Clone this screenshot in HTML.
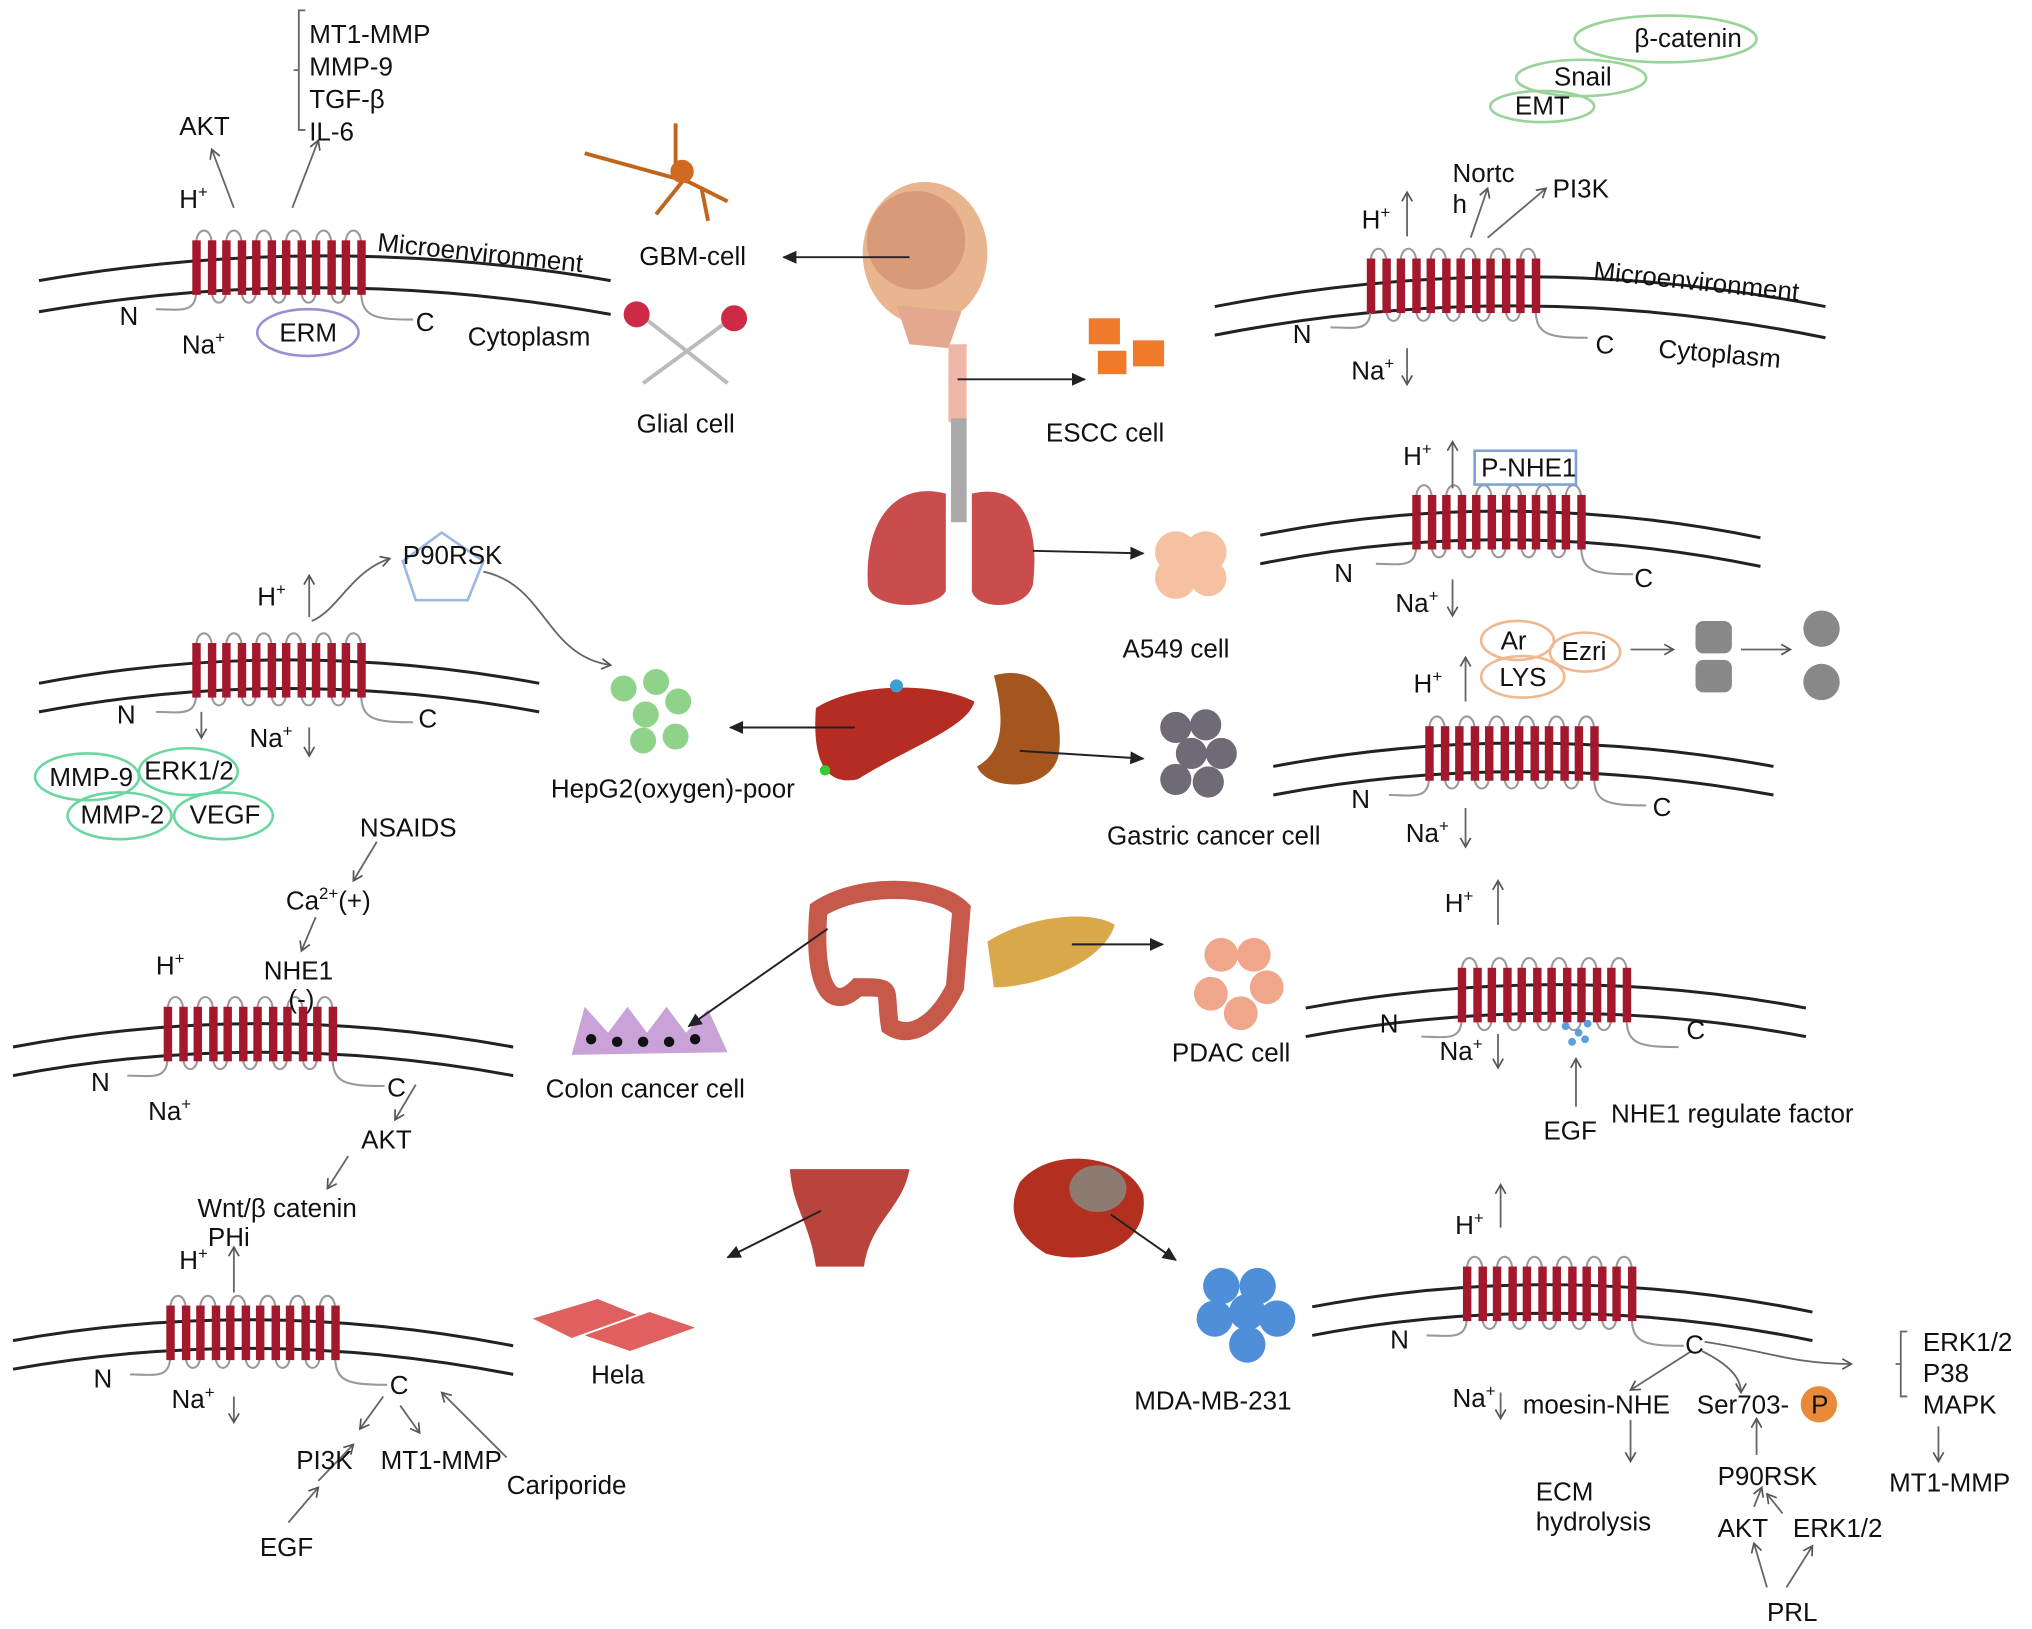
<!DOCTYPE html>
<html><head><meta charset="utf-8"><style>
html,body{margin:0;padding:0;background:#fff}
svg{display:block}
text{font-family:"Liberation Sans",sans-serif;fill:#111;font-size:20px}
</style></head><body>
<svg width="2032" height="1629" viewBox="0 0 1564 1254" preserveAspectRatio="none" xmlns="http://www.w3.org/2000/svg">
<defs>
<marker id="a" markerWidth="10" markerHeight="10" refX="8" refY="5" orient="auto" markerUnits="userSpaceOnUse"><path d="M1,1 L8,5 L1,9" fill="none" stroke="#555" stroke-width="1.3"/></marker>
<marker id="b" markerWidth="12" markerHeight="12" refX="10" refY="6" orient="auto" markerUnits="userSpaceOnUse"><path d="M0,1 L11,6 L0,11 Z" fill="#222"/></marker>
<g id="bars">
<g fill="none" stroke="#999" stroke-width="1.6">
<path d="M3,8 C3,-6 15,-6 15,8"/><path d="M26,8 C26,-6 38,-6 38,8"/><path d="M49,8 C49,-6 61,-6 61,8"/><path d="M72,8 C72,-6 84,-6 84,8"/><path d="M95,8 C95,-6 107,-6 107,8"/><path d="M118,8 C118,-6 130,-6 130,8"/>
<path d="M15,44 C15,56 26,56 26,44"/><path d="M38,44 C38,56 49,56 49,44"/><path d="M61,44 C61,56 72,56 72,44"/><path d="M84,44 C84,56 95,56 95,44"/><path d="M107,44 C107,56 118,56 118,44"/>
<path d="M3,44 C3,62 -10,58 -28,58"/><path d="M130,44 C130,64 140,66 170,66"/>
</g>
<g fill="#a3182c"><rect x="0" y="5" width="6.5" height="42"/><rect x="12" y="5" width="6.5" height="42"/><rect x="23" y="5" width="6.5" height="42"/><rect x="35" y="5" width="6.5" height="42"/><rect x="46" y="5" width="6.5" height="42"/><rect x="58" y="5" width="6.5" height="42"/><rect x="69" y="5" width="6.5" height="42"/><rect x="81" y="5" width="6.5" height="42"/><rect x="92" y="5" width="6.5" height="42"/><rect x="104" y="5" width="6.5" height="42"/><rect x="115" y="5" width="6.5" height="42"/><rect x="127" y="5" width="6.5" height="42"/></g>
</g>
</defs>
<g fill="none" stroke="#222" stroke-width="2.3">
<path d="M30,216 Q250,178 470,216"/><path d="M30,240 Q250,202 470,242"/>
<path d="M935,236 Q1170,190 1405,236"/><path d="M935,258 Q1170,212 1405,260"/>
<path d="M970,412 Q1160,374 1355,414"/><path d="M970,434 Q1160,396 1355,436"/>
<path d="M30,526 Q220,490 415,526"/><path d="M30,548 Q220,512 415,548"/>
<path d="M980,590 Q1170,554 1365,590"/><path d="M980,612 Q1170,576 1365,612"/>
<path d="M10,806 Q200,770 395,806"/><path d="M10,828 Q200,792 395,828"/>
<path d="M1005,776 Q1200,740 1390,776"/><path d="M1005,798 Q1200,762 1390,798"/>
<path d="M10,1032 Q200,998 395,1036"/><path d="M10,1054 Q200,1020 395,1058"/>
<path d="M1010,1006 Q1200,970 1395,1010"/><path d="M1010,1028 Q1200,992 1395,1032"/>
</g>
<use href="#bars" transform="translate(148,180)"/>
<use href="#bars" transform="translate(1052,194)"/>
<use href="#bars" transform="translate(1087,376)"/>
<use href="#bars" transform="translate(148,490)"/>
<use href="#bars" transform="translate(1097,554)"/>
<use href="#bars" transform="translate(126,770)"/>
<use href="#bars" transform="translate(1122,740)"/>
<use href="#bars" transform="translate(128,1000)"/>
<use href="#bars" transform="translate(1126,970)"/>

<ellipse cx="712" cy="195" rx="48" ry="55" fill="#e9b58f"/><ellipse cx="705" cy="185" rx="38" ry="38" fill="#d99a7a"/><path d="M690,235 L700,265 L730,268 L740,240 Z" fill="#e4a890"/>
<rect x="730" y="265" width="14" height="60" fill="#f0b7a8"/><rect x="732" y="322" width="12" height="80" fill="#aaa"/>
<path d="M728,380 C690,370 665,400 668,450 C670,470 720,470 728,455 Z" fill="#c94d4d"/><path d="M748,380 C790,370 800,410 795,450 C790,470 752,470 748,455 Z" fill="#c94d4d"/>
<path d="M628,545 C660,525 720,525 750,540 C745,560 700,575 660,600 C635,605 625,585 628,545 Z" fill="#b52c22"/><circle cx="690" cy="528" r="5" fill="#3aa0d0"/><circle cx="635" cy="593" r="4" fill="#3c3"/>
<path d="M765,520 C800,510 820,540 815,580 C810,610 760,610 752,590 C770,580 775,560 765,520 Z" fill="#a4561e"/>
<path d="M630,700 C660,680 720,680 740,700 L735,760 C720,790 700,800 685,790 C680,760 690,760 660,760 C640,780 625,760 630,700 Z" fill="none" stroke="#c7594a" stroke-width="14"/>
<path d="M760,725 C790,705 840,700 858,712 C850,740 800,760 765,760 Z" fill="#d9a84a"/>
<path d="M608,900 L700,900 C695,930 670,940 665,975 L628,975 C623,940 610,930 608,900 Z" fill="#b8443b"/>
<path d="M785,910 C810,880 870,890 880,920 C885,960 840,975 805,965 C780,950 775,930 785,910 Z" fill="#b33020"/><ellipse cx="845" cy="915" rx="22" ry="18" fill="#8d7a70"/>

<g stroke="#c0651c" stroke-width="3" fill="none"><path d="M450,118 L530,140 L560,155"/><path d="M520,130 L520,95"/><path d="M525,140 L505,165"/><path d="M540,145 L545,170"/></g><circle cx="525" cy="132" r="9" fill="#d06a20"/>
<g stroke="#bbb" stroke-width="3" fill="none"><path d="M490,240 L560,295"/><path d="M570,240 L495,295"/></g><circle cx="490" cy="242" r="10" fill="#cc2a45"/><circle cx="565" cy="245" r="10" fill="#cc2a45"/>
<g fill="#ee7a2a"><rect x="838" y="245" width="24" height="20"/><rect x="872" y="262" width="24" height="20"/><rect x="845" y="270" width="22" height="18"/></g>
<g fill="#f6c1a0"><circle cx="905" cy="425" r="16"/><circle cx="928" cy="425" r="16"/><circle cx="905" cy="445" r="16"/><circle cx="930" cy="445" r="14"/></g>
<g fill="#8fd28a"><circle cx="480" cy="530" r="10"/><circle cx="505" cy="525" r="10"/><circle cx="522" cy="540" r="10"/><circle cx="497" cy="550" r="10"/><circle cx="520" cy="567" r="10"/><circle cx="495" cy="570" r="10"/></g>
<g fill="#6f6a75"><circle cx="905" cy="560" r="12"/><circle cx="928" cy="558" r="12"/><circle cx="917" cy="580" r="12"/><circle cx="940" cy="580" r="12"/><circle cx="905" cy="600" r="12"/><circle cx="930" cy="602" r="12"/></g>
<g fill="#f0a68a"><circle cx="940" cy="735" r="13"/><circle cx="965" cy="735" r="13"/><circle cx="975" cy="760" r="13"/><circle cx="955" cy="780" r="13"/><circle cx="932" cy="765" r="13"/></g>
<path d="M440,812 L450,775 L468,795 L483,775 L498,795 L513,775 L528,795 L545,777 L560,810 Z" fill="#c9a3d8"/>
<g fill="#111"><circle cx="455" cy="800" r="4"/><circle cx="475" cy="802" r="4"/><circle cx="495" cy="802" r="4"/><circle cx="515" cy="802" r="4"/><circle cx="535" cy="800" r="4"/></g>
<g fill="#e06060"><path d="M410,1015 L460,1000 L490,1012 L440,1030 Z"/><path d="M450,1028 L500,1010 L535,1022 L485,1040 Z"/></g>
<g fill="#4f8ed8"><circle cx="940" cy="990" r="14"/><circle cx="968" cy="990" r="14"/><circle cx="935" cy="1015" r="14"/><circle cx="960" cy="1010" r="14"/><circle cx="983" cy="1015" r="14"/><circle cx="960" cy="1035" r="14"/></g>
<g fill="#888"><rect x="1305" y="478" width="28" height="25" rx="6"/><rect x="1305" y="508" width="28" height="25" rx="6"/><circle cx="1402" cy="484" r="14"/><circle cx="1402" cy="525" r="14"/></g>

<g stroke="#222" stroke-width="1.5" fill="none" marker-end="url(#b)">
<path d="M700,198 L603,198"/><path d="M737,292 L835,292"/><path d="M795,424 L880,426"/>
<path d="M658,560 L562,560"/><path d="M785,578 L880,584"/><path d="M637,715 L530,790"/>
<path d="M825,727 L895,727"/><path d="M632,932 L560,968"/><path d="M855,935 L905,970"/>
</g>

<g stroke="#666" stroke-width="1.4" fill="none" marker-end="url(#a)">
<path d="M180,160 L163,115"/><path d="M225,160 L245,108"/>
<path d="M1083,182 L1083,148"/><path d="M1132,183 L1145,145"/><path d="M1145,183 L1190,145"/>
<path d="M1083,268 L1083,296"/><path d="M1118,376 L1118,340"/><path d="M1118,446 L1118,474"/>
<path d="M238,475 L238,443"/><path d="M240,478 C260,470 270,440 300,430"/><path d="M372,440 C420,450 420,505 470,512"/>
<path d="M238,560 L238,582"/><path d="M155,548 L155,568"/>
<path d="M1128,540 L1128,506"/><path d="M1255,500 L1288,500"/><path d="M1340,500 L1378,500"/>
<path d="M1128,622 L1128,652"/><path d="M290,648 L272,678"/><path d="M243,706 L232,732"/>
<path d="M1153,712 L1153,678"/><path d="M1153,796 L1153,822"/><path d="M1213,852 L1213,815"/>
<path d="M320,835 L304,862"/><path d="M268,890 L252,915"/><path d="M180,995 L180,960"/>
<path d="M180,1075 L180,1095"/><path d="M245,1140 L272,1112"/><path d="M295,1075 L277,1100"/><path d="M308,1082 L323,1103"/><path d="M390,1122 L340,1072"/>
<path d="M222,1172 L245,1145"/>
<path d="M1155,945 L1155,912"/><path d="M1155,1072 L1155,1092"/><path d="M1302,1040 L1255,1070"/>
<path d="M1312,1033 C1360,1040 1380,1050 1425,1050"/><path d="M1255,1093 L1255,1125"/>
<path d="M1310,1040 C1330,1050 1340,1060 1340,1072"/><path d="M1352,1120 L1352,1092"/>
<path d="M1350,1160 L1356,1145"/><path d="M1372,1165 L1360,1150"/><path d="M1492,1098 L1492,1125"/>
<path d="M1360,1222 L1350,1188"/><path d="M1375,1222 L1395,1190"/>
</g>
<path d="M235,8 L230,8 L230,100 L235,100 M230,54 L226,54" fill="none" stroke="#666" stroke-width="1.4"/>
<path d="M1468,1025 L1463,1025 L1463,1075 L1468,1075 M1463,1050 L1459,1050" fill="none" stroke="#666" stroke-width="1.4"/>

<g fill="none" stroke-width="2">
<ellipse cx="237" cy="256" rx="39" ry="18" stroke="#9a8fd0"/>
<ellipse cx="1282" cy="30" rx="70" ry="18" stroke="#9ad39a"/><ellipse cx="1217" cy="60" rx="50" ry="14" stroke="#9ad39a"/><ellipse cx="1187" cy="82" rx="40" ry="12" stroke="#9ad39a"/>
<rect x="1135" y="347" width="78" height="26" stroke="#7ba3d6"/>
<path d="M340,410 L310,432 L320,462 L360,462 L372,432 Z" stroke="#9bb8e0"/>
<ellipse cx="67" cy="598" rx="40" ry="18" stroke="#6cd6a0"/><ellipse cx="145" cy="594" rx="38" ry="18" stroke="#6cd6a0"/><ellipse cx="92" cy="628" rx="40" ry="18" stroke="#6cd6a0"/><ellipse cx="172" cy="628" rx="38" ry="18" stroke="#6cd6a0"/>
<ellipse cx="1168" cy="493" rx="28" ry="15" stroke="#f0b890"/><ellipse cx="1172" cy="521" rx="32" ry="16" stroke="#f0b890"/><ellipse cx="1220" cy="502" rx="27" ry="15" stroke="#f0b890"/>
</g>
<g fill="#5aa0de"><circle cx="1205" cy="790" r="3"/><circle cx="1215" cy="795" r="3"/><circle cx="1222" cy="788" r="3"/><circle cx="1210" cy="802" r="3"/><circle cx="1220" cy="800" r="3"/></g>
<circle cx="1400" cy="1081" r="14" fill="#e88a3a"/><text x="1394" y="1088" font-size="15">P</text>

<text x="238" y="33">MT1-MMP</text><text x="238" y="58">MMP-9</text><text x="238" y="83">TGF-β</text><text x="238" y="108">IL-6</text>
<text x="138" y="104">AKT</text><text x="138" y="160">H<tspan font-size="13" dy="-8">+</tspan></text>
<text x="290" y="193" transform="rotate(6 290 193)">Microenvironment</text>
<text x="92" y="250">N</text><text x="140" y="272">Na<tspan font-size="13" dy="-8">+</tspan></text><text x="215" y="263">ERM</text><text x="320" y="255">C</text><text x="360" y="266">Cytoplasm</text>
<text x="492" y="204">GBM-cell</text><text x="490" y="333">Glial cell</text><text x="805" y="340">ESCC cell</text>
<text x="1258" y="36" font-size="18">β-catenin</text><text x="1196" y="66" font-size="18">Snail</text><text x="1166" y="88" font-size="18">EMT</text>
<text x="1118" y="140">Nortc</text><text x="1118" y="164">h</text><text x="1195" y="152">PI3K</text>
<text x="1048" y="176">H<tspan font-size="13" dy="-8">+</tspan></text>
<text x="1226" y="215" transform="rotate(6 1226 215)">Microenvironment</text>
<text x="995" y="264">N</text><text x="1228" y="272">C</text><text x="1276" y="275" transform="rotate(5 1276 275)">Cytoplasm</text><text x="1040" y="292">Na<tspan font-size="13" dy="-8">+</tspan></text>
<text x="1080" y="358">H<tspan font-size="13" dy="-8">+</tspan></text><text x="1140" y="367" font-size="18">P-NHE1</text>
<text x="1027" y="448">N</text><text x="1258" y="452">C</text><text x="1074" y="471">Na<tspan font-size="13" dy="-8">+</tspan></text>
<text x="864" y="506">A549 cell</text>
<text x="310" y="434" font-size="13">P90RSK</text>
<text x="198" y="466">H<tspan font-size="13" dy="-8">+</tspan></text>
<text x="90" y="557">N</text><text x="322" y="560">C</text><text x="192" y="575">Na<tspan font-size="13" dy="-8">+</tspan></text>
<text x="38" y="605" font-size="16">MMP-9</text><text x="111" y="600" font-size="16">ERK1/2</text><text x="62" y="634" font-size="16">MMP-2</text><text x="146" y="634" font-size="16">VEGF</text>
<text x="424" y="614">HepG2(oxygen)-poor</text>
<text x="1155" y="500">Ar</text><text x="1154" y="528">LYS</text><text x="1202" y="508">Ezri</text>
<text x="1088" y="533">H<tspan font-size="13" dy="-8">+</tspan></text>
<text x="1040" y="622">N</text><text x="1272" y="628">C</text><text x="1082" y="648">Na<tspan font-size="13" dy="-8">+</tspan></text>
<text x="852" y="650">Gastric cancer cell</text>
<text x="277" y="644">NSAIDS</text><text x="220" y="700">Ca<tspan font-size="13" dy="-8">2+</tspan><tspan dy="8">(+)</tspan></text>
<text x="120" y="750">H<tspan font-size="13" dy="-8">+</tspan></text><text x="203" y="754">NHE1</text><text x="222" y="776">(-)</text>
<text x="70" y="840">N</text><text x="298" y="844">C</text><text x="114" y="862">Na<tspan font-size="13" dy="-8">+</tspan></text>
<text x="278" y="884">AKT</text><text x="152" y="937">Wnt/β catenin</text><text x="160" y="959">PHi</text><text x="138" y="977">H<tspan font-size="13" dy="-8">+</tspan></text>
<text x="72" y="1068">N</text><text x="300" y="1073">C</text><text x="132" y="1084">Na<tspan font-size="13" dy="-8">+</tspan></text>
<text x="228" y="1131">PI3K</text><text x="293" y="1131">MT1-MMP</text><text x="390" y="1150">Cariporide</text><text x="200" y="1198">EGF</text>
<text x="420" y="845">Colon cancer cell</text><text x="455" y="1065">Hela</text>
<text x="1112" y="702">H<tspan font-size="13" dy="-8">+</tspan></text>
<text x="1062" y="795">N</text><text x="1298" y="800">C</text><text x="1108" y="816">Na<tspan font-size="13" dy="-8">+</tspan></text>
<text x="902" y="817">PDAC cell</text><text x="1188" y="877">EGF</text><text x="1240" y="864">NHE1 regulate factor</text>
<text x="1120" y="950">H<tspan font-size="13" dy="-8">+</tspan></text>
<text x="1070" y="1038">N</text><text x="1297" y="1042">C</text><text x="1118" y="1083">Na<tspan font-size="13" dy="-8">+</tspan></text>
<text x="873" y="1085">MDA-MB-231</text>
<text x="1172" y="1088">moesin-NHE</text><text x="1306" y="1088">Ser703-</text>
<text x="1182" y="1155">ECM</text><text x="1182" y="1178">hydrolysis</text>
<text x="1322" y="1143">P90RSK</text><text x="1322" y="1183">AKT</text><text x="1380" y="1183">ERK1/2</text><text x="1360" y="1248">PRL</text>
<text x="1480" y="1040">ERK1/2</text><text x="1480" y="1064">P38</text><text x="1480" y="1088">MAPK</text><text x="1454" y="1148">MT1-MMP</text>
</svg>
</body></html>
